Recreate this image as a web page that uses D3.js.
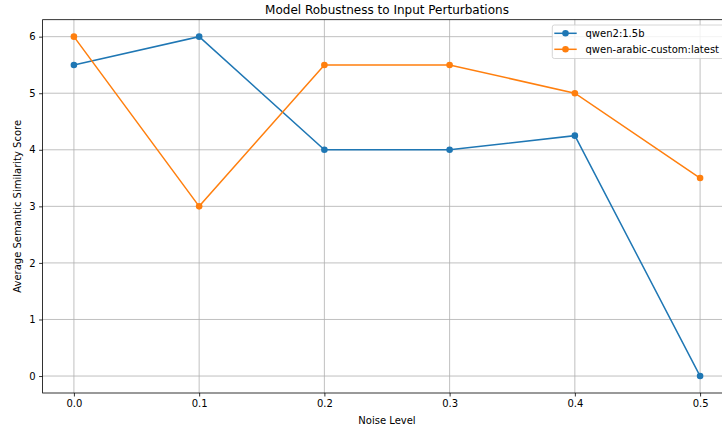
<!DOCTYPE html>
<html>
<head>
<meta charset="utf-8">
<script src="https://cdn.jsdelivr.net/npm/d3@7"></script>
<style>
  body{margin:0;background:#fff;}
  svg{display:block;font-family:"DejaVu Sans",sans-serif;}
</style>
</head>
<body>
<svg id="chart" width="722" height="430"></svg>
<script>
var noiseLevels = [0.0, 0.1, 0.2, 0.3, 0.4, 0.5];
var qwen2 = [5.5, 6.0, 4.0, 4.0, 4.25, 0.0];
var qwenArabic = [6.0, 3.0, 5.5, 5.5, 5.0, 3.5];
var seriesNames = ["qwen2:1.5b", "qwen-arabic-custom:latest"];
var seriesColors = ["#1f77b4", "#ff7f0e"];
var xTicks = [0.0, 0.1, 0.2, 0.3, 0.4, 0.5];
var yTicks = [0, 1, 2, 3, 4, 5, 6];

var svg = d3.select("#chart");
var plotL = 42.6, plotR = 731.4, plotT = 19.7, plotB = 393;

var x = d3.scaleLinear().domain([-0.025, 0.525]).range([plotL, plotR]);
var y = d3.scaleLinear().domain([-0.3, 6.3]).range([plotB, plotT]);

// grid
var grid = svg.append("g");
grid.selectAll(".gx").data(xTicks).enter().append("line")
	.attr("x1", d => x(d)).attr("x2", d => x(d))
	.attr("y1", plotT).attr("y2", plotB)
	.attr("stroke", "#b0b0b0").attr("stroke-width", 0.8);
grid.selectAll(".gy").data(yTicks).enter().append("line")
	.attr("x1", plotL).attr("x2", plotR)
	.attr("y1", d => y(d)).attr("y2", d => y(d))
	.attr("stroke", "#b0b0b0").attr("stroke-width", 0.8);

// axes
var xAxis = d3.axisBottom(x).tickValues(xTicks).tickFormat(d3.format(".1f")).tickSize(3.5).tickPadding(3.5).tickSizeOuter(0);
var yAxis = d3.axisLeft(y).tickValues(yTicks).tickFormat(d3.format("d")).tickSize(3.5).tickPadding(3.5).tickSizeOuter(0);

var gx = svg.append("g").attr("transform", "translate(0," + plotB + ")").call(xAxis);
var gy = svg.append("g").attr("transform", "translate(" + plotL + ",0)").call(yAxis);
[gx, gy].forEach(function(g){
	g.select(".domain").remove();
	g.selectAll(".tick line").attr("stroke", "#000").attr("stroke-width", 0.8);
	g.selectAll(".tick text").attr("font-size", 10).attr("fill", "#000")
		.attr("font-family", "DejaVu Sans");
});

// spines
svg.append("rect").attr("x", plotL).attr("y", plotT)
	.attr("width", plotR - plotL).attr("height", plotB - plotT)
	.attr("fill", "none").attr("stroke", "#000").attr("stroke-width", 0.8);

// lines
var line = d3.line().x((d, i) => x(noiseLevels[i])).y(d => y(d));
[qwen2, qwenArabic].forEach(function(vals, k){
	svg.append("path").datum(vals).attr("d", line)
		.attr("fill", "none").attr("stroke", seriesColors[k]).attr("stroke-width", 1.5);
	svg.selectAll(".pt" + k).data(vals).enter().append("circle")
		.attr("cx", (d, i) => x(noiseLevels[i])).attr("cy", d => y(d))
		.attr("r", 3.3).attr("fill", seriesColors[k]);
});

// title and labels
svg.append("text").attr("x", (plotL + plotR) / 2).attr("y", 14)
	.attr("text-anchor", "middle").attr("font-size", 12).text("Model Robustness to Input Perturbations");
svg.append("text").attr("x", (plotL + plotR) / 2).attr("y", 424)
	.attr("text-anchor", "middle").attr("font-size", 10).text("Noise Level");
svg.append("text").attr("transform", "translate(21," + ((plotT + plotB) / 2) + ") rotate(-90)")
	.attr("text-anchor", "middle").attr("font-size", 10).text("Average Semantic Similarity Score");

// legend
var lg = svg.append("g");
lg.append("rect").attr("x", 552.3).attr("y", 25).attr("width", 200).attr("height", 33.5)
	.attr("rx", 2).attr("fill", "#fff").attr("fill-opacity", 0.8)
	.attr("stroke", "#cccccc").attr("stroke-width", 0.8);
seriesNames.forEach(function(name, k){
	var ly = 33.3 + k * 16;
	lg.append("line").attr("x1", 554.3).attr("x2", 576.7).attr("y1", ly).attr("y2", ly)
		.attr("stroke", seriesColors[k]).attr("stroke-width", 1.5);
	lg.append("circle").attr("cx", 565.5).attr("cy", ly).attr("r", 3.3).attr("fill", seriesColors[k]);
	lg.append("text").attr("x", 585.5).attr("y", ly + 3.6).attr("font-size", 10).text(name);
});
</script>
</body>
</html>
